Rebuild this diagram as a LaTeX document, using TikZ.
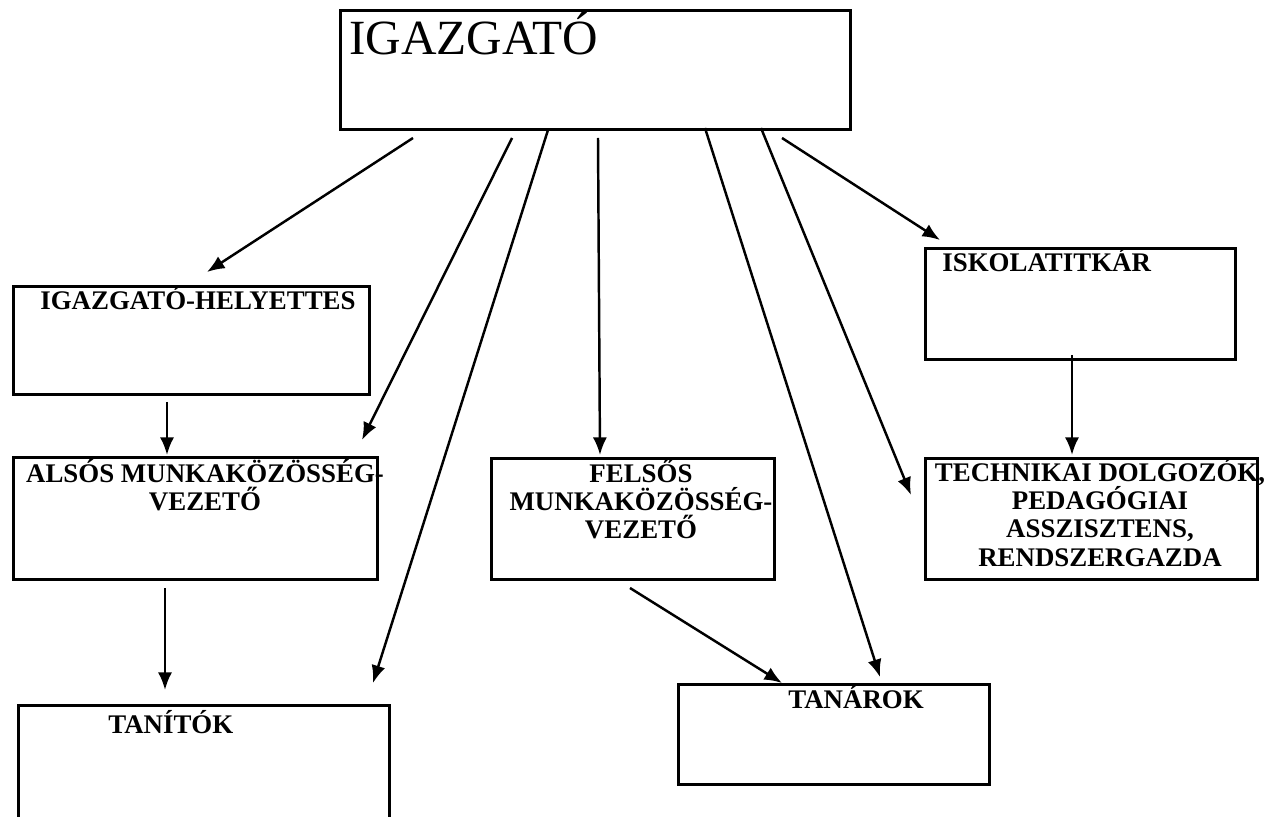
\documentclass[tikz,border=0pt]{standalone}
\usepackage{fontspec}
\setmainfont{Liberation Serif}
\usetikzlibrary{arrows.meta}

\begin{document}
\begin{tikzpicture}[x=0.02cm, y=-0.02cm,
    box/.style={draw, line width=1.7pt, inner sep=0pt},
    lbl/.style={font=\fontsize{15.3}{16}\selectfont\bfseries, inner sep=0pt},
    arr/.style={-{Latex[length=10pt,width=8pt]}, line width=1.4pt}]
    \useasboundingbox (0,0) rectangle (1275,817);

    % Draw boxes
    \node[box, minimum width=10.22cm, minimum height=2.4cm] (igaz) at (595.5,70) {};
    \node[box, minimum width=7.14cm, minimum height=2.18cm] (helyettes) at (191.5,340.5) {};
    \node[box, minimum width=6.22cm, minimum height=2.24cm] (titkar) at (1080.5,304) {};
    \node[box, minimum width=7.3cm, minimum height=2.46cm] (alsos) at (195.5,518.5) {};
    \node[box, minimum width=5.68cm, minimum height=2.44cm] (felsos) at (633,519) {};
    \node[box, minimum width=6.66cm, minimum height=2.44cm] (techn) at (1091.5,519) {};
    \node[box, minimum width=7.44cm, minimum height=2.6cm] (tanitok) at (204,770) {};
    \node[box, minimum width=6.24cm, minimum height=2.02cm] (tanarok) at (834,734.5) {};

    % Labels
    \node[inner sep=0pt, anchor=base west, font=\fontsize{28}{32}\selectfont] (t-igaz) at (349,55) {IGAZGATÓ};
    \node[lbl, anchor=base west] (t-helyettes) at (40,310) {IGAZGATÓ-HELYETTES};
    \node[lbl, anchor=base west] (t-titkar) at (942,272) {ISKOLATITKÁR};
    \node[lbl, anchor=base, align=center] (t-alsos) at (205,511) {ALSÓS MUNKAKÖZÖSSÉG-\\VEZETŐ};
    \node[lbl, anchor=base, align=center] (t-felsos) at (641,539) {FELSŐS\\MUNKAKÖZÖSSÉG-\\VEZETŐ};
    \node[lbl, anchor=base, align=center] (t-techn) at (1100,566) {TECHNIKAI DOLGOZÓK,\\PEDAGÓGIAI\\ASSZISZTENS,\\RENDSZERGAZDA};
    \node[lbl, anchor=base west] (t-tanitok) at (108,733) {TANÍTÓK};
    \node[lbl, anchor=base west] (t-tanarok) at (788,708) {TANÁROK};

    % Arrow ends
    \coordinate (s1) at (413,138);  \coordinate (e1) at (207,272);
    \coordinate (s2) at (512,138);  \coordinate (e2) at (362,440);
    \coordinate (s3) at (548,130);  \coordinate (e3) at (373,683);
    \coordinate (s4) at (598,138);  \coordinate (e4) at (600,455);
    \coordinate (s5) at (705,128);  \coordinate (e5) at (880,677);
    \coordinate (s6) at (761,128);  \coordinate (e6) at (911,495);
    \coordinate (s7) at (782,138);  \coordinate (e7) at (940,240);
    \coordinate (s8) at (167,402);  \coordinate (e8) at (167,455);
    \coordinate (s9) at (1072,355); \coordinate (e9) at (1072,455);
    \coordinate (s10) at (165,588); \coordinate (e10) at (165,690);
    \coordinate (s11) at (630,588); \coordinate (e11) at (782,683);

    % Draw connections
    \foreach \i in {1,...,11}
        \draw[arr] (s\i) -- (e\i);
\end{tikzpicture}
\end{document}
